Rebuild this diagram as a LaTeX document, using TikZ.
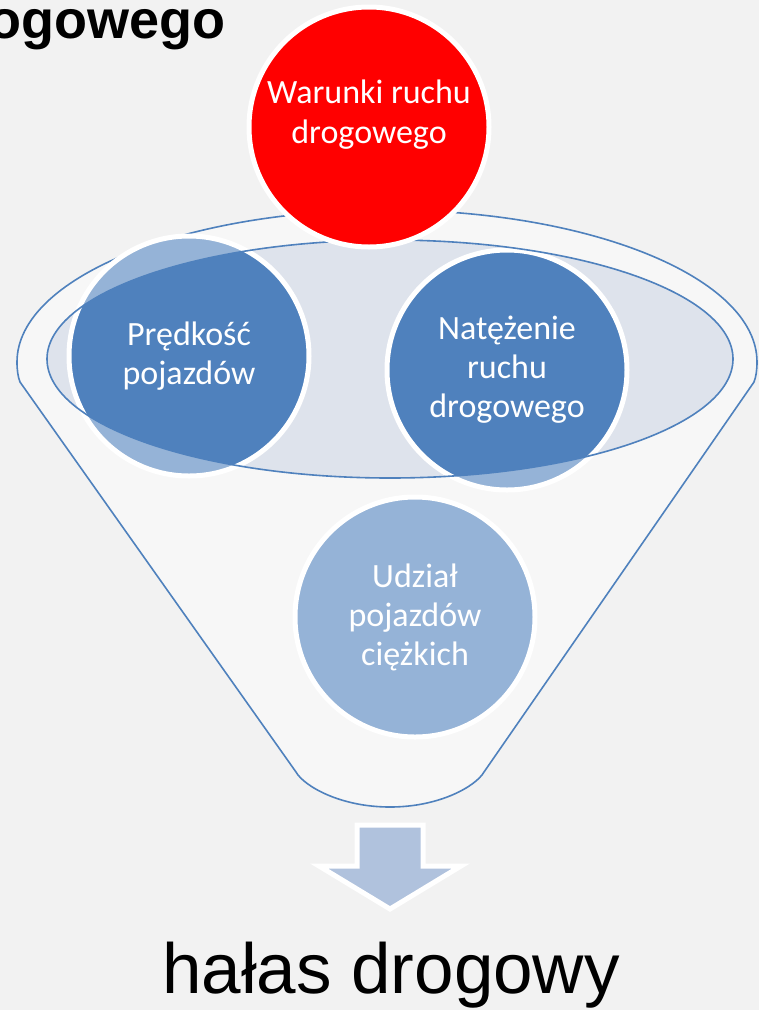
\documentclass[tikz,border=0pt]{standalone}
\usepackage{fontspec}
\setmainfont{Carlito}
\newfontfamily\arial{Liberation Sans}
\definecolor{tlo}{HTML}{F2F2F2}
\definecolor{lejekkolor}{HTML}{F7F7F7}
\definecolor{wnetrze}{HTML}{DEE3EC}
\definecolor{ciemny}{HTML}{4F81BD}
\definecolor{jasny}{HTML}{95B3D7}
\definecolor{strzalkakolor}{HTML}{B0C2DD}
\definecolor{czerwony}{HTML}{FF0000}

\begin{document}
\begin{tikzpicture}[x=1pt, y=-1pt,
% Styl kół
kolo/.style={circle, inner sep=0pt, minimum size=240pt, line width=5pt, draw=white, text=white, align=center, font=\fontsize{34}{39}\selectfont},
% Styl tekstu w kole
kolotekst/.style={text=white, align=center, font=\fontsize{34}{40}\selectfont},
% Styl lejka
lejek/.style={fill=lejekkolor, draw=ciemny, line width=1.6pt},
% Styl strzałki
strzalka/.style={fill=strzalkakolor, draw=white, line width=5pt, line join=miter},
]
\useasboundingbox[fill=tlo] (0,0) rectangle (759,1010);

% Lejek
\draw[lejek] (17,362) arc[start angle=180, end angle=360, x radius=370, y radius=152]
  .. controls (757,370) and (756,377) .. (754,382) -- (484,772)
  .. controls (476,786) and (440,807) .. (390,807)
  .. controls (340,807) and (304,786) .. (296,772) -- (20,382)
  .. controls (18,377) and (17,370) .. cycle;
\fill[wnetrze] (390,359) ellipse[x radius=343, y radius=119];

% Tła kół
\foreach \x/\y in {189/356, 507/370} {
  \fill[jasny] (\x,\y) circle[radius=120];
}
\begin{scope}
  \clip (390,359) ellipse[x radius=343, y radius=119];
  \foreach \x/\y in {189/356, 507/370} {
    \fill[ciemny] (\x,\y) circle[radius=118];
  }
\end{scope}

% Koła
\node (predkosc) at (189,356) [kolo]{Prędkość\\pojazdów};
\node (natezenie) at (507,370) [kolo]{Natężenie\\ruchu\\drogowego};
\node (udzial) at (415,617) [kolo, fill=jasny]{Udział\\pojazdów\\ciężkich};
\draw[draw=ciemny, line width=1.6pt] (390,359) ellipse[x radius=343, y radius=119];
\node (warunki) at (369,127) [kolo, fill=czerwony,
  label={[kolotekst, yshift=12pt]center:{Warunki ruchu\\drogowego}}]{};

% Strzałka
\draw[strzalka] (357,825) -- (423,825) -- (423,866) -- (461,866) -- (390,909)
  -- (319,866) -- (357,866) -- cycle;

% Napisy
\node (tytul) at (226,38) [anchor=base east, inner sep=0pt, font=\arial\bfseries\fontsize{54}{60}\selectfont]{drogowego};
\node (halas) at (391,993) [anchor=base, inner sep=0pt, font=\arial\fontsize{71}{80}\selectfont]{hałas drogowy};
\end{tikzpicture}
\end{document}
